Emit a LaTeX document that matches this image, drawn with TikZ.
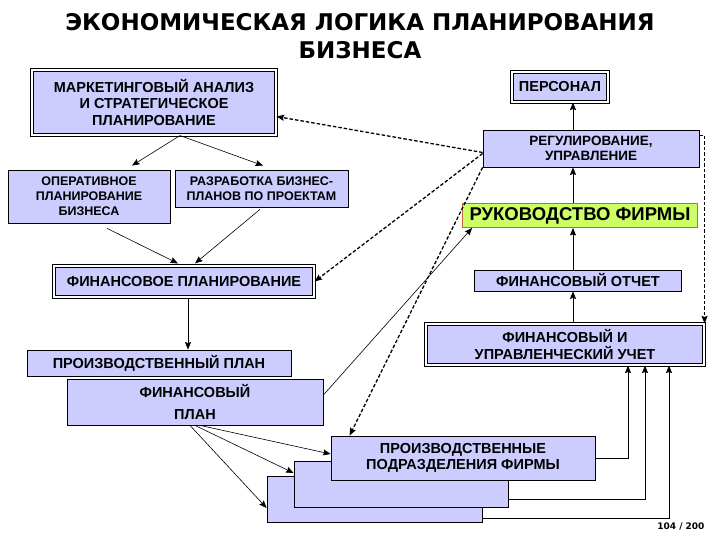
\documentclass[tikz,border=0pt]{standalone}
\usepackage{fontspec}
\setmainfont{Liberation Sans}
\newfontfamily\titlefont{DejaVu Sans}
\usetikzlibrary{arrows.meta,calc}

\definecolor{boxblue}{RGB}{204,204,255}
\definecolor{bossfill}{RGB}{204,255,102}
\definecolor{bossline}{RGB}{204,102,51}

\newcommand{\fsz}[2]{\bfseries\fontsize{#1}{#2}\selectfont}

\begin{document}
\begin{tikzpicture}[x=1pt, y=1pt, >={Stealth[length=7.5pt,width=6pt,inset=1pt]},
    box/.style={draw, fill=boxblue, line width=0.8pt, inner sep=0pt, align=center, font=\fsz{14.5}{16.5}},
    tribox/.style={box, double=white, double distance=1.6pt, line width=1.1pt},
    link/.style={->, line width=0.6pt},
    dlink/.style={->, line width=1.3pt, dash pattern=on 3.5pt off 2pt}]
    \useasboundingbox (0,0) rectangle (720,540);

    % Title
    \node[font=\titlefont\fsz{23}{28.5}, align=center] (title) at (360,504) {ЭКОНОМИЧЕСКАЯ ЛОГИКА ПЛАНИРОВАНИЯ\\БИЗНЕСА};

    % Planning side
    \node[tribox, minimum width=244pt, minimum height=65pt] (mkt) at (154,437.5) {МАРКЕТИНГОВЫЙ АНАЛИЗ\\И СТРАТЕГИЧЕСКОЕ\\ПЛАНИРОВАНИЕ};
    \node[box, minimum width=162pt, minimum height=53pt, font=\fsz{12.5}{15}] (oper) at (89,343.5) {ОПЕРАТИВНОЕ\\ПЛАНИРОВАНИЕ\\БИЗНЕСА};
    \node[box, minimum width=173pt, minimum height=37pt, font=\fsz{12.5}{15}] (razr) at (261.5,351.5) {РАЗРАБОТКА БИЗНЕС-\\ПЛАНОВ ПО ПРОЕКТАМ};
    \node[tribox, minimum width=260pt, minimum height=31pt] (finpl) at (184,258.5) {ФИНАНСОВОЕ ПЛАНИРОВАНИЕ};
    \node[box, minimum width=264pt, minimum height=26pt] (pplan) at (159,177) {ПРОИЗВОДСТВЕННЫЙ ПЛАН};
    \node[box, minimum width=256pt, minimum height=46pt, font=\fsz{14.5}{22}] (fplan) at (195,138) {ФИНАНСОВЫЙ\\ПЛАН};

    % Management side
    \node[tribox, minimum width=96pt, minimum height=30pt] (pers) at (560,453) {ПЕРСОНАЛ};
    \node[box, minimum width=216pt, minimum height=37pt, font=\fsz{13.5}{15.5}] (reg) at (591,391.5) {РЕГУЛИРОВАНИЕ,\\УПРАВЛЕНИЕ};
    \node[box, fill=bossfill, draw=bossline, minimum width=235pt, minimum height=24pt, font=\fsz{18.5}{20}] (boss) at (580,324.5) {РУКОВОДСТВО ФИРМЫ};
    \node[box, minimum width=207pt, minimum height=21pt] (fotch) at (578,259.5) {ФИНАНСОВЫЙ ОТЧЕТ};
    \node[tribox, minimum width=278pt, minimum height=41pt] (fucht) at (565,195.5) {ФИНАНСОВЫЙ И\\УПРАВЛЕНЧЕСКИЙ УЧЕТ};

    % Production units (stacked)
    \node[box, minimum width=215pt, minimum height=46pt] (unitc) at (374.5,41) {};
    \node[box, minimum width=214pt, minimum height=46pt] (unitb) at (401,56) {};
    \node[box, minimum width=264pt, minimum height=44pt] (unita) at (463,82) {ПРОИЗВОДСТВЕННЫЕ\\ПОДРАЗДЕЛЕНИЯ ФИРМЫ};

    % Page number
    \node[anchor=east, font=\titlefont\fsz{9}{11}] (page) at (708,13) {104 / 200};

    % Planning chain
    \draw[link] ($(mkt.south)+(26,0)$) -- ($(oper.north)+(43,4)$);
    \draw[link] ($(mkt.south)+(26,0)$) -- ($(razr.north)+(1.5,4)$);
    \draw[link] ($(oper.south)+(18,-5)$) -- ($(finpl.north)+(-6,2)$);
    \draw[link] ($(razr.south)+(-1.5,-2)$) -- ($(finpl.north)+(11,2)$);
    \coordinate (fdown) at ($(finpl.south)+(4,0)$);
    \draw[link] (fdown) -- (fdown |- pplan.north);
    \draw[link] ($(fplan.south)+(-5,0)$) -- ($(unitc.west)+(0,-9)$);
    \draw[link] (fplan.south) -- ($(unitb.west)+(0,11)$);
    \draw[link] ($(fplan.south)+(5,0)$) -- ($(unita.west)+(0,4)$);
    \draw[link] ($(fplan.east)+(0,7)$) -- ($(boss.south west)+(10,0)$);

    % Feedback from management
    \draw[dlink] ($(reg.west)+(0,-4)$) -- ($(mkt.east)+(0,-14)$);
    \draw[dlink] ($(reg.west)+(0,-5)$) -- (finpl.east);
    \draw[dlink] (reg.south west) -- ($(unita.north west)+(19,0)$);
    \draw[dlink] ($(reg.north east)+(0,-6)$) -| (fucht.north east);

    % Reporting spine
    \coordinate (spine) at (573,0);
    \draw[link, line width=0.8pt] (reg.north -| spine) -- (pers.south -| spine);
    \draw[link, line width=0.8pt] (boss.north -| spine) -- (reg.south -| spine);
    \draw[link, line width=0.8pt] (fotch.north -| spine) -- (boss.south -| spine);
    \draw[link, line width=0.8pt] (fucht.north -| spine) -- (fotch.south -| spine);

    % Units report to accounting
    \draw[link] (unita.east) -| ($(fucht.south)+(63,0)$);
    \draw[link] ($(unitb.south east)+(0,8)$) -| ($(fucht.south)+(80,0)$);
    \draw[link] ($(unitc.south east)+(0,4)$) -| ($(fucht.south)+(104,0)$);
\end{tikzpicture}
\end{document}
